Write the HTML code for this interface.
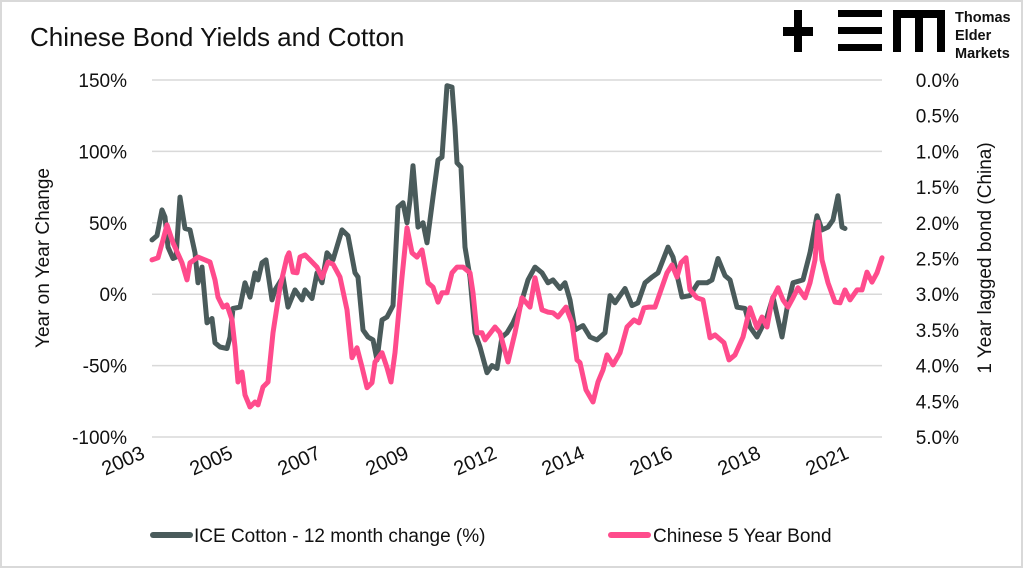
<!DOCTYPE html>
<html><head><meta charset="utf-8">
<style>
html,body{margin:0;padding:0;background:#fff;}
body{width:1024px;height:569px;overflow:hidden;font-family:"Liberation Sans",sans-serif;}
svg text{font-family:"Liberation Sans",sans-serif;fill:#111;}
</style></head>
<body>
<svg id="chart" width="1024" height="569" viewBox="0 0 1024 569">
  <rect x="1" y="1" width="1021" height="566" fill="#fff" stroke="#d9d9d9" stroke-width="2"/>
  <text x="30" y="46" font-size="26">Chinese Bond Yields and Cotton</text>
  <g>
    <rect x="783" y="27" width="30" height="9" fill="#000"/>
    <rect x="794" y="10" width="8" height="42" fill="#000"/>
    <rect x="838" y="10" width="44" height="7" fill="#000"/>
    <rect x="838" y="27" width="44" height="7" fill="#000"/>
    <rect x="838" y="44" width="44" height="7" fill="#000"/>
    <rect x="893" y="10" width="52" height="8" fill="#000"/>
    <rect x="893" y="10" width="8" height="42" fill="#000"/>
    <rect x="915" y="10" width="8" height="42" fill="#000"/>
    <rect x="937" y="10" width="8" height="42" fill="#000"/>
    <text x="955" y="22" font-size="14.5" font-weight="bold">Thomas</text>
    <text x="955" y="40" font-size="14.5" font-weight="bold">Elder</text>
    <text x="955" y="58" font-size="14.5" font-weight="bold">Markets</text>
  </g>
  <g id="grid"></g>
  <g id="yleft"></g>
  <g id="yright"></g>
  <g id="xaxis"></g>
  <g id="series"></g>
  <text transform="translate(49,258) rotate(-90)" text-anchor="middle" font-size="19">Year on Year Change</text>
  <text transform="translate(991,258) rotate(-90)" text-anchor="middle" font-size="19">1 Year lagged bond (China)</text>
  <g>
    <g>
      <line x1="153" y1="535" x2="190" y2="535" stroke="#4a5b5b" stroke-width="6" stroke-linecap="round"/>
      <text x="194" y="542" font-size="19">ICE Cotton - 12 month change (%)</text>
    </g>
    <g>
      <line x1="611" y1="535" x2="648" y2="535" stroke="#ff4b8c" stroke-width="6" stroke-linecap="round"/>
      <text x="653" y="542" font-size="19">Chinese 5 Year Bond</text>
    </g>
  </g>
</svg>
<script>
const leftTicks=[150,100,50,0,-50,-100];
const rightTicks=[0,0.5,1,1.5,2,2.5,3,3.5,4,4.5,5];
const xTickDates=[2003,2005.2,2007.4,2009.6,2011.8,2014,2016.2,2018.4,2020.6];
const xTickLabels=["2003","2005","2007","2009","2012","2014","2016","2018","2021"];

const cottonDates=[2003,2003.125,2003.25,2003.325,2003.4,2003.525,2003.6,2003.7,2003.825,2003.95,2004.075,2004.15,2004.25,2004.375,2004.5,2004.575,2004.7,2004.875,2004.95,2005.025,2005.2,2005.325,2005.45,2005.575,2005.65,2005.75,2005.85,2006,2006.075,2006.275,2006.4,2006.575,2006.75,2006.825,2007,2007.125,2007.25,2007.375,2007.525,2007.75,2007.9,2008.075,2008.15,2008.275,2008.4,2008.525,2008.625,2008.75,2008.875,2009.025,2009.15,2009.275,2009.375,2009.45,2009.525,2009.65,2009.775,2009.875,2010.025,2010.15,2010.25,2010.375,2010.5,2010.575,2010.625,2010.725,2010.825,2010.95,2011.075,2011.2,2011.375,2011.5,2011.625,2011.75,2011.875,2012.025,2012.2,2012.4,2012.575,2012.75,2012.9,2013.025,2013.2,2013.325,2013.45,2013.575,2013.775,2013.95,2014.125,2014.325,2014.45,2014.575,2014.825,2015,2015.15,2015.325,2015.5,2015.65,2015.9,2016.025,2016.25,2016.45,2016.65,2016.875,2017,2017.15,2017.325,2017.45,2017.625,2017.825,2017.95,2018.125,2018.375,2018.525,2018.75,2018.875,2019.025,2019.275,2019.45,2019.625,2019.75,2019.9,2020.025,2020.15,2020.25,2020.325];
const cottonValues=[38,41,59,54,33,25,26,68,46,45,29,8,19,-20,-17,-34,-37,-38,-30,-10,-9,8,-2,15,10,22,24,-4,3,12,-9,3,-4,3,-3,15,8,29,24,45,41,15,12,-25,-30,-32,-46,-18,-16,-8,61,64,50,66,90,47,50,36,68,94,96,146,145,117,92,89,33,12,-27,-37,-55,-50,-52,-30,-27,-20,-9,10,19,15,8,10,4,8,-4,-25,-22,-30,-32,-27,-1,-6,4,-8,-6,8,12,15,33,26,-2,-1,8,8,10,25,13,10,-9,-10,-23,-30,-16,-2,-30,-10,8,10,29,55,45,47,52,69,47,46];

const bondDates=[2003,2003.15,2003.275,2003.375,2003.525,2003.75,2003.875,2003.95,2004.15,2004.325,2004.45,2004.575,2004.65,2004.775,2004.875,2005,2005.075,2005.15,2005.25,2005.325,2005.45,2005.575,2005.65,2005.775,2005.9,2006.025,2006.2,2006.375,2006.425,2006.525,2006.625,2006.7,2006.825,2006.95,2007.125,2007.25,2007.4,2007.525,2007.7,2007.875,2008,2008.125,2008.25,2008.375,2008.5,2008.575,2008.75,2008.875,2008.975,2009.075,2009.25,2009.375,2009.5,2009.625,2009.75,2009.9,2010.025,2010.15,2010.25,2010.375,2010.5,2010.625,2010.775,2010.95,2011.025,2011.125,2011.25,2011.325,2011.575,2011.7,2011.9,2012.075,2012.25,2012.45,2012.575,2012.75,2012.9,2013.025,2013.15,2013.35,2013.5,2013.625,2013.7,2013.85,2014.025,2014.15,2014.275,2014.375,2014.525,2014.7,2014.875,2015.05,2015.175,2015.3,2015.425,2015.575,2015.725,2015.875,2016.0,2016.125,2016.225,2016.35,2016.45,2016.625,2016.775,2016.95,2017.075,2017.3,2017.425,2017.575,2017.775,2017.95,2018.125,2018.25,2018.375,2018.5,2018.65,2018.775,2018.9,2019.025,2019.15,2019.325,2019.45,2019.575,2019.65,2019.75,2019.9,2020.075,2020.2,2020.325,2020.45,2020.625,2020.75,2020.875,2021.0,2021.125,2021.25,2021.375,2021.5];
const bondValues=[2.52,2.49,2.24,2.03,2.28,2.56,2.80,2.56,2.48,2.52,2.55,2.80,3.04,3.18,3.15,3.36,3.74,4.23,4.09,4.41,4.58,4.51,4.55,4.30,4.23,3.54,2.90,2.48,2.42,2.69,2.70,2.48,2.45,2.52,2.62,2.77,2.55,2.58,2.76,3.22,3.89,3.75,4.02,4.31,4.24,3.95,3.82,4.03,4.23,3.82,2.76,2.07,2.42,2.48,2.38,2.84,2.90,3.11,2.98,2.98,2.70,2.62,2.62,2.70,2.98,3.54,3.54,3.64,3.46,3.54,3.95,3.54,3.05,3.18,2.77,3.22,3.25,3.26,3.32,3.18,3.40,3.92,3.96,4.34,4.51,4.23,4.06,3.85,3.99,3.82,3.46,3.36,3.40,3.19,3.18,3.18,2.94,2.70,2.59,2.76,2.56,2.49,2.94,3.05,3.08,3.61,3.57,3.68,3.92,3.85,3.60,3.19,3.47,3.32,3.46,3.08,2.91,3.08,3.18,3.05,2.91,3.05,2.84,2.52,1.99,2.52,2.84,3.11,3.12,2.94,3.08,2.94,2.94,2.69,2.83,2.70,2.49];

const NS='http://www.w3.org/2000/svg';
const X0=152, X1=882, Y0=80, Y1=437;
function xScale(d){return X0+(d-2003)*40;}
function yLeft(v){return Y0+(150-v)/250*(Y1-Y0);}
function yRight(v){return Y0+v/5*(Y1-Y0);}
function mk(tag,parent){const e=document.createElementNS(NS,tag);document.getElementById(parent).appendChild(e);return e;}

leftTicks.forEach(v=>{
  const g=mk('line','grid');
  
  
  g.setAttribute('x1',X0);g.setAttribute('x2',X1);
  g.setAttribute('y1',yLeft(v));g.setAttribute('y2',yLeft(v));
  g.setAttribute('stroke','#d9d9d9');g.setAttribute('stroke-width','1.5');
  const t=mk('text','yleft');
  
  
  t.setAttribute('x',127);t.setAttribute('y',yLeft(v)+7);
  t.setAttribute('text-anchor','end');t.setAttribute('font-size','19');
  t.textContent=v+'%';
});
rightTicks.forEach(v=>{
  const t=mk('text','yright');
  
  
  t.setAttribute('x',959);t.setAttribute('y',yRight(v)+7);
  t.setAttribute('text-anchor','end');t.setAttribute('font-size','19');
  t.textContent=v.toFixed(1)+'%';
});
xTickDates.forEach((d,i)=>{
  const t=mk('text','xaxis');
  
  
  const x=xScale(d)-12, y=444;
  t.setAttribute('transform','translate('+x+','+y+') rotate(-24)');
  t.setAttribute('text-anchor','end');t.setAttribute('font-size','20');
  t.setAttribute('dy','15');
  t.textContent=xTickLabels[i];
});
function drawLine(dates,vals,ys,color,name){
  const p=mk('path','series');
  
  
  p.setAttribute('d',dates.map((d,i)=>(i?'L':'M')+xScale(d).toFixed(1)+','+ys(vals[i]).toFixed(1)).join(''));
  p.setAttribute('fill','none');p.setAttribute('stroke',color);
  p.setAttribute('stroke-width','5');p.setAttribute('stroke-linejoin','round');p.setAttribute('stroke-linecap','round');
}
drawLine(cottonDates,cottonValues,yLeft,'#4a5b5b','cotton-line');
drawLine(bondDates,bondValues,yRight,'#ff4b8c','bond-line');
</script>
</body></html>
